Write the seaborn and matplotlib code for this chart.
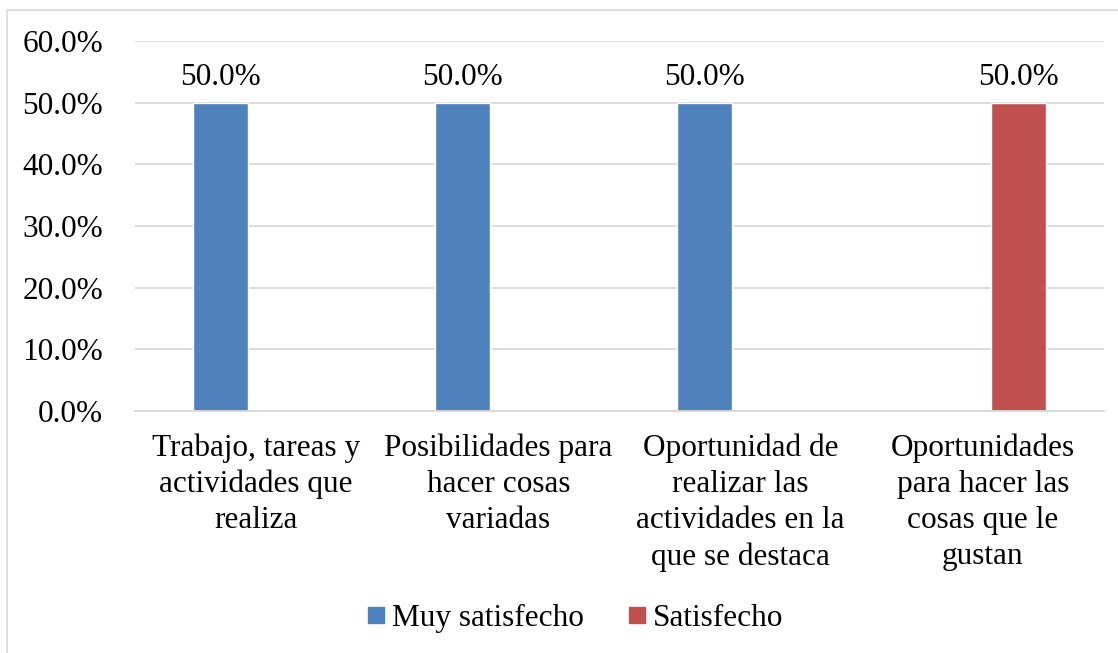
import numpy as np
import matplotlib
matplotlib.use("Agg")
import matplotlib.pyplot as plt
from matplotlib.lines import Line2D
from matplotlib.patches import Rectangle
import seaborn as sns
import pandas as pd

categorias = [
    "Trabajo, tareas y\nactividades que\nrealiza",
    "Posibilidades para\nhacer cosas\nvariadas",
    "Oportunidad de\nrealizar las\nactividades en la\nque se destaca",
    "Oportunidades\npara hacer las\ncosas que le\ngustan",
]
series = ["Muy satisfecho", "Satisfecho"]
muy_satisfecho = [50.0, 50.0, 50.0, 0.0]
satisfecho = [0.0, 0.0, 0.0, 50.0]
colores = ["#4F81BD", "#C0504D"]
yticks = [0, 10, 20, 30, 40, 50, 60]

df = pd.DataFrame({
    "categoria": categorias * 2,
    "serie": [series[0]] * 4 + [series[1]] * 4,
    "valor": muy_satisfecho + satisfecho,
})

sns.set_style("white")
plt.rcParams["font.family"] = ["Liberation Serif", "DejaVu Serif"]
plt.rcParams["text.color"] = "black"
plt.rcParams["xtick.color"] = "black"
plt.rcParams["ytick.color"] = "black"
fs = 22.5

fig, ax = plt.subplots(figsize=(11.18, 6.53), dpi=100)
fig.subplots_adjust(left=0.1208, right=0.9875, top=0.9372, bottom=0.3706)

sns.barplot(data=df, x="categoria", y="valor", hue="serie", palette=colores,
            width=0.59, gap=0.23, errorbar=None, ax=ax, legend=False,
            saturation=1)

# labels only for the visible bars
for cont in ax.containers:
    labels = ["%.1f%%" % b.get_height() if b.get_height() > 0 else "" for b in cont]
    ax.bar_label(cont, labels=labels, padding=8, fontsize=fs, color="black")

ax.set_ylim(0, 60)
ax.set_yticks(yticks)
ax.set_yticklabels(["%.1f%%" % t for t in yticks], fontsize=fs)
ax.set_xticks(range(len(categorias)))
ax.set_xticklabels(categorias, fontsize=fs, linespacing=1.32)
ax.tick_params(axis="x", length=0, pad=16)
ax.tick_params(axis="y", length=0, pad=23)
ax.set_xlabel("")
ax.set_ylabel("")
ax.yaxis.grid(True, color="#d9d9d9", linewidth=1.3)
ax.set_axisbelow(True)
for s in ["top", "right", "left"]:
    ax.spines[s].set_visible(False)
ax.spines["bottom"].set_color("#d9d9d9")
ax.spines["bottom"].set_linewidth(1.3)

handles = [Line2D([], [], marker="s", linestyle="", markersize=11,
                  markerfacecolor=c, markeredgecolor=c) for c in colores]
fig.legend(handles, series, loc="center", bbox_to_anchor=(0.513, 0.0536),
           ncol=2, frameon=False, fontsize=fs, handletextpad=0.1,
           columnspacing=1.3, handlelength=0.8)

# chart frame
fig.patches.append(Rectangle((7 / 1118, -0.05), 1.2, 0.05 + 1 - 10 / 653,
                             transform=fig.transFigure, fill=False,
                             edgecolor="#d9d9d9", linewidth=1.2))

fig.savefig("out.png", dpi=100)
